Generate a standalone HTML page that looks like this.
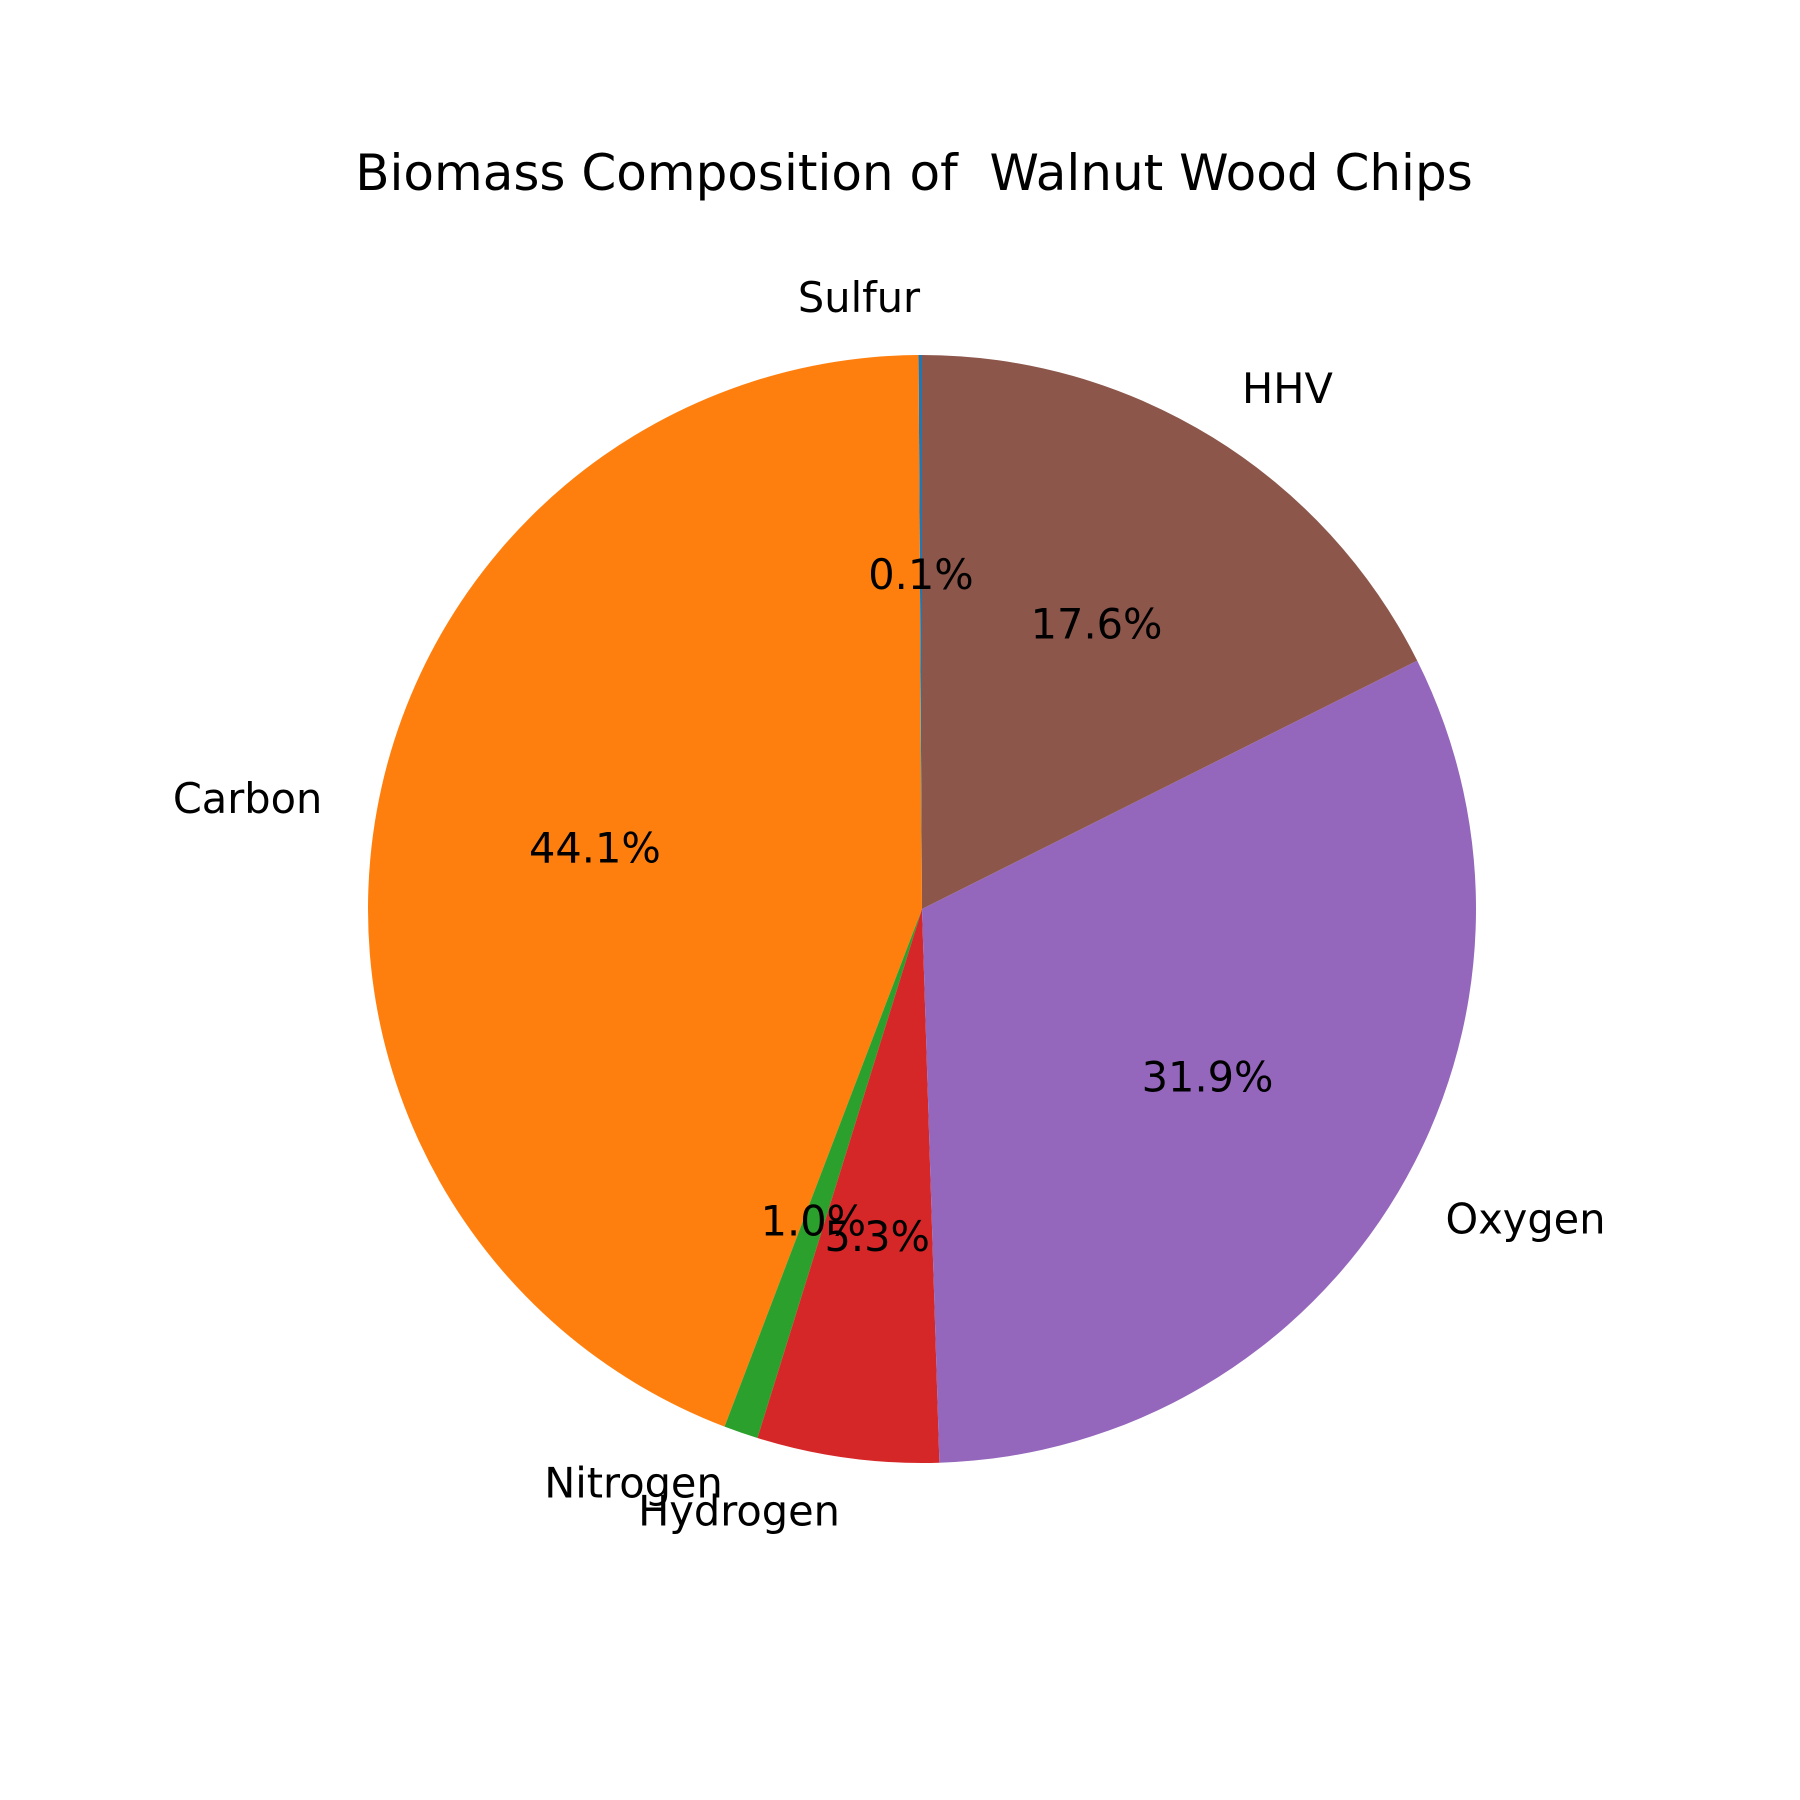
<!DOCTYPE html>
<html><head><meta charset="utf-8"><style>
html,body{margin:0;padding:0;background:#fff;}
svg{display:block;font-family:"DejaVu Sans","Liberation Sans",sans-serif;}
text{white-space:pre;}
</style></head><body>
<svg id="chart" width="1800" height="1800" viewBox="0 0 1800 1800">
<rect width="1800" height="1800" fill="#fff"/>
<text x="914" y="190" text-anchor="middle" font-size="50" fill="#000" xml:space="preserve">Biomass Composition of  Walnut Wood Chips</text>
<g id="slices"></g>
<g id="labels"></g>
</svg>
<script>
const categories = ["Sulfur","Carbon","Nitrogen","Hydrogen","Oxygen","HHV"];
const values = [0.1, 44.1, 1.0, 5.3, 31.9, 17.6];
const colors = ["#1f77b4","#ff7f0e","#2ca02c","#d62728","#9467bd","#8c564b"];
const cx = 922, cy = 909, r = 554;
const NS = "http://www.w3.org/2000/svg";
const total = values.reduce((a,b)=>a+b,0);
const gS = document.getElementById("slices"), gL = document.getElementById("labels");
let ang = 90;
function pt(a, rr){ const t=a*Math.PI/180; return [cx+rr*Math.cos(t), cy-rr*Math.sin(t)]; }
values.forEach((v,i)=>{
  const sweep = v/total*360;
  const a0 = ang, a1 = ang+sweep;
  const p0 = pt(a0,r), p1 = pt(a1,r);
  const path = document.createElementNS(NS,"path");
  path.setAttribute("d",`M${cx},${cy} L${p0[0]},${p0[1]} A${r},${r} 0 ${sweep>180?1:0} 0 ${p1[0]},${p1[1]} Z`);
  path.setAttribute("fill",colors[i]);
  
  
  gS.appendChild(path);
  const mid = (a0+a1)/2;
  const lp = pt(mid, r*1.1);
  const c = Math.cos(mid*Math.PI/180);
  const lab = document.createElementNS(NS,"text");
  lab.setAttribute("x",lp[0]); lab.setAttribute("y",lp[1]-2);
  lab.setAttribute("text-anchor", c>0.0001?"start":(c<-0.0001?"end":"middle"));
  lab.setAttribute("dominant-baseline","central");
  lab.setAttribute("font-size","41.5");
  lab.textContent = categories[i];
  
  
  gL.appendChild(lab);
  const pp = pt(mid, r*0.6);
  const pc = document.createElementNS(NS,"text");
  pc.setAttribute("x",pp[0]); pc.setAttribute("y",pp[1]-2);
  pc.setAttribute("text-anchor","middle");
  pc.setAttribute("dominant-baseline","central");
  pc.setAttribute("font-size","41.5");
  pc.textContent = (v/total*100).toFixed(1)+"%";
  
  
  gL.appendChild(pc);
  ang = a1;
});
</script>
</body></html>
